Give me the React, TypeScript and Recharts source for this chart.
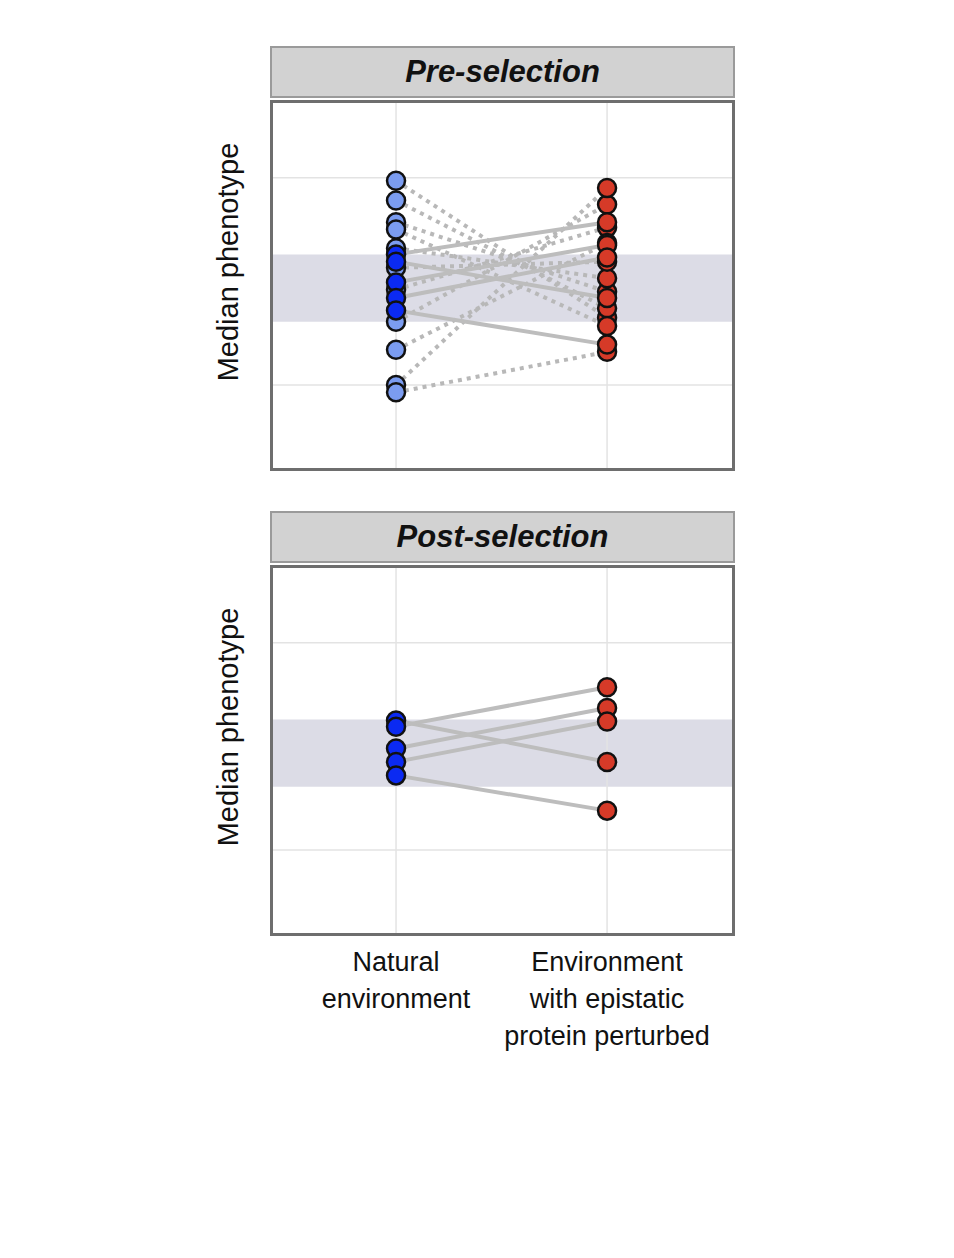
import React from "react";
import {
  ComposedChart,
  Line,
  Scatter,
  XAxis,
  YAxis,
  ReferenceLine,
  ReferenceArea,
} from "recharts";

// [natural, perturbed] median phenotype pairs
const preKept = [
  [2.26, 2.57],
  [2.19, 1.84],
  [1.99, 2.35],
  [1.84, 2.23],
  [1.72, 1.39],
];
const preLost = [
  [2.97, 1.65],
  [2.78, 1.74],
  [2.57, 1.9],
  [2.5, 1.57],
  [2.32, 2.03],
  [2.13, 2.19],
  [1.92, 2.52],
  [1.61, 2.74],
  [1.34, 2.37],
  [1.0, 2.9],
  [0.93, 1.32],
];
const postKept = [
  [2.25, 1.85],
  [2.19, 2.57],
  [1.98, 2.37],
  [1.85, 2.24],
  [1.72, 1.38],
];
const band = [1.61, 2.26];
const gridY = [1, 3];
const xLabels = [["Natural", "environment"], ["Environment", "with epistatic", "protein perturbed"]];

const DARK = "#0b2af2";
const LIGHT = "#7b9cf0";
const RED = "#d63a28";
const FONT = "'Liberation Sans', Arial, sans-serif";

const dot = (fill: string) => (p: any) => (
  <circle cx={p.cx} cy={p.cy} r={9} fill={fill} stroke="#111" strokeWidth={2.5} />
);

function Panel({ title, kept, lost, top }: { title: string; kept: number[][]; lost: number[][]; top: number }) {
  const all = [...lost, ...kept];
  return (
    <>
      <div
        style={{
          position: "absolute", left: 270, top: top, width: 465, height: 52, boxSizing: "border-box",
          background: "#d2d2d2", border: "2px solid #9a9a9a", textAlign: "center", lineHeight: "48px",
          fontFamily: FONT, fontWeight: "bold", fontStyle: "italic", fontSize: 31, color: "#111",
        }}
      >
        {title}
      </div>
      <div
        style={{
          position: "absolute", left: 270, top: top + 54, width: 465, height: 371, boxSizing: "border-box",
          border: "3px solid #6e6e6e", background: "#fff",
        }}
      >
        <ComposedChart width={459} height={365} margin={{ top: 0, right: 0, bottom: 0, left: 0 }}>
          <XAxis type="number" dataKey="x" domain={[0.417, 2.592]} hide />
          <YAxis type="number" dataKey="y" domain={[0.2, 3.72]} hide />
          <ReferenceArea y1={band[0]} y2={band[1]} fill="#dcdce6" fillOpacity={1} stroke="none" />
          {gridY.map((g) => (
            <ReferenceLine key={g} y={g} stroke="#e3e3e3" strokeWidth={1.5} />
          ))}
          <ReferenceLine x={1} stroke="#e3e3e3" strokeWidth={1.5} />
          <ReferenceLine x={2} stroke="#e3e3e3" strokeWidth={1.5} />
          {lost.map((p, i) => (
            <Line key={"l" + i} data={[{ x: 1, y: p[0] }, { x: 2, y: p[1] }]} dataKey="y" stroke="#b8b8b8"
              strokeWidth={4} strokeDasharray="4 5" dot={false} isAnimationActive={false} />
          ))}
          {kept.map((p, i) => (
            <Line key={"k" + i} data={[{ x: 1, y: p[0] }, { x: 2, y: p[1] }]} dataKey="y" stroke="#bdbdbd"
              strokeWidth={4} dot={false} isAnimationActive={false} />
          ))}
          <Scatter data={all.map((p) => ({ x: 2, y: p[1] }))} shape={dot(RED)} isAnimationActive={false} />
          <Scatter data={lost.map((p) => ({ x: 1, y: p[0] }))} shape={dot(LIGHT)} isAnimationActive={false} />
          <Scatter data={kept.map((p) => ({ x: 1, y: p[0] }))} shape={dot(DARK)} isAnimationActive={false} />
        </ComposedChart>
      </div>
      <div
        style={{
          position: "absolute", left: 228, top: top + 216, transform: "translate(-50%, -50%) rotate(-90deg)",
          whiteSpace: "nowrap", fontFamily: FONT, fontSize: 29, color: "#111",
        }}
      >
        Median phenotype
      </div>
    </>
  );
}

export default function App() {
  return (
    <div style={{ position: "absolute", left: 0, top: 0, width: 954, height: 1258, background: "#fff" }}>
      <Panel title="Pre-selection" kept={preKept} lost={preLost} top={46} />
      <Panel title="Post-selection" kept={postKept} lost={[]} top={511} />
      {xLabels.map((lines, i) => (
        <div
          key={i}
          style={{
            position: "absolute", left: i === 0 ? 396 : 607, top: 944, transform: "translateX(-50%)",
            textAlign: "center", whiteSpace: "nowrap", fontFamily: FONT, fontSize: 27, lineHeight: "37px", color: "#111",
          }}
        >
          {lines.map((l) => (
            <div key={l}>{l}</div>
          ))}
        </div>
      ))}
    </div>
  );
}
